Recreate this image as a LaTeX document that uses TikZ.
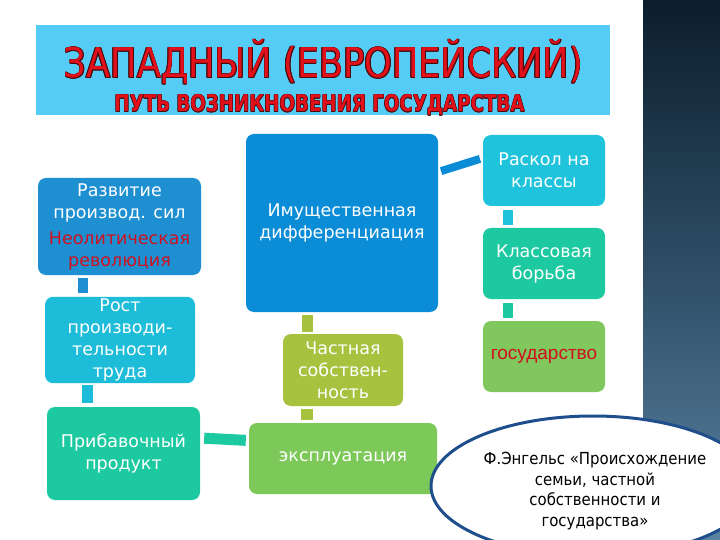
\documentclass[tikz,border=0pt]{standalone}
\usepackage{fontspec}
\setmainfont{DejaVu Sans}
\newfontfamily\condfont{DejaVu Sans Condensed}
\newfontfamily\titlefont{DejaVu Sans Condensed}
\newfontfamily\subtitlefont{DejaVu Sans Condensed Bold}
\newfontfamily\arialfont{Liberation Sans}
\usetikzlibrary{shapes.geometric}
\definecolor{titlebg}{HTML}{55CCF5}
\definecolor{titlered}{HTML}{E2101A}
\definecolor{titledark}{HTML}{4A0A0A}
\definecolor{nred}{HTML}{D0101E}
\definecolor{cBlueA}{HTML}{1E90D2}
\definecolor{cBlueB}{HTML}{0B8CD6}
\definecolor{cCyan}{HTML}{1DBCD8}
\definecolor{cCyanB}{HTML}{1FC4DC}
\definecolor{cTeal}{HTML}{1CC9A0}
\definecolor{cOlive}{HTML}{A6C23E}
\definecolor{cGreen}{HTML}{7CC858}
\definecolor{cGreenB}{HTML}{80C75E}
\definecolor{ellblue}{HTML}{1F4E8C}
\definecolor{panelTop}{HTML}{0C1E2C}
\definecolor{panelMid}{HTML}{2E4E66}
\definecolor{panelBot}{HTML}{5A82A2}
\newcommand\olt[3]{\leavevmode
 \rlap{\textcolor{#1}{\kern-#2#3}}%
 \rlap{\textcolor{#1}{\kern#2#3}}%
 \rlap{\textcolor{#1}{\raisebox{#2}{#3}}}%
 \rlap{\textcolor{#1}{\raisebox{-#2}{#3}}}%
 \rlap{\textcolor{#1}{\kern-#2\raisebox{#2}{#3}}}%
 \rlap{\textcolor{#1}{\kern#2\raisebox{#2}{#3}}}%
 \rlap{\textcolor{#1}{\kern-#2\raisebox{-#2}{#3}}}%
 \rlap{\textcolor{#1}{\kern#2\raisebox{-#2}{#3}}}%
 \textcolor{titlered}{#3}}
\tikzset{
 box/.style={rounded corners=8pt, text=white, align=center, inner sep=2pt,
   font=\fontsize{17.5}{22}\selectfont},
 conn/.style={line width=10pt, line cap=butt},
}
\begin{document}
\begin{tikzpicture}[x=1pt,y=-1pt]
\useasboundingbox (0,0) rectangle (720,540);
\fill[white] (0,0) rectangle (720,540);
% right dark panel
\shade[top color=panelTop, bottom color=panelBot, middle color=panelMid] (643,0) rectangle (720,540);
% title band
\fill[titlebg] (36,25) rectangle (610,115);
\node[anchor=base, inner sep=0pt] (title) at (323.5,78)
  {\resizebox{519pt}{\height}{\fontsize{41}{44}\titlefont\olt{titledark}{0.7pt}{ЗАПАДНЫЙ (ЕВРОПЕЙСКИЙ)}}};
\node[anchor=base, inner sep=0pt] (subtitle) at (319.5,112)
  {\resizebox{410pt}{\height}{\fontsize{23}{26}\subtitlefont\olt{titledark}{0.45pt}{ПУТЬ ВОЗНИКНОВЕНИЯ ГОСУДАРСТВА}}};

% boxes
\node[box, fill=cBlueA, minimum width=163pt, minimum height=97pt] (b1) at (119.5,226.5)
  {Развитие\\производ. сил\\[4pt]\textcolor{nred}{Неолитическая}\\\textcolor{nred}{революция}};
\node[box, fill=cCyan, minimum width=150pt, minimum height=86pt] (b2) at (120,340)
  {Рост\\производи-\\тельности\\труда};
\node[box, fill=cTeal, minimum width=153pt, minimum height=93pt] (b3) at (123.5,453.5)
  {Прибавочный\\продукт};
\node[box, fill=cBlueB, minimum width=192pt, minimum height=178pt] (b4) at (342,223)
  {Имущественная\\дифференциация};
\node[box, fill=cOlive, minimum width=120pt, minimum height=72pt] (b5) at (343,370)
  {Частная\\собствен-\\ность};
\node[box, fill=cGreen, minimum width=188pt, minimum height=71pt] (b6) at (343,458.5)
  {эксплуатация};
\node[box, fill=cCyanB, minimum width=122pt, minimum height=71pt] (b7) at (544,170.5)
  {Раскол на\\классы};
\node[box, fill=cTeal, minimum width=122pt, minimum height=71pt] (b8) at (544,263.5)
  {Классовая\\борьба};
\node[box, fill=cGreenB, minimum width=122pt, minimum height=71pt, text=nred,
  font=\fontsize{19}{22}\arialfont] (b9) at (544,356.5) {государство};

% connectors
\draw[conn, cBlueA, shorten <=3pt, shorten >=4pt] ([xshift=-37pt]b1.south) -- ([xshift=-37pt]b1.south |- b2.north);
\draw[conn, cCyan, line width=11pt, shorten <=2pt, shorten >=4pt] ([xshift=-33pt]b2.south) -- ([xshift=-33pt]b2.south |- b3.north);
\draw[conn, cTeal, line width=11pt, shorten <=4pt, shorten >=3pt] ([yshift=15.5pt]b3.east) -- ([yshift=18pt]b6.west);
\draw[conn, cOlive, line width=12pt, shorten <=3pt, shorten >=3pt] ([xshift=-36.5pt]b6.north) -- ([xshift=-36.5pt]b5.south);
\draw[conn, cOlive, line width=11pt, shorten <=2pt, shorten >=3pt] ([xshift=-35.5pt]b5.north) -- ([xshift=-35.5pt]b5.north |- b4.south);
\draw[conn, cBlueB, line width=8pt, shorten <=3pt, shorten >=3pt] ([yshift=51pt]b4.east) -- ([yshift=12.5pt]b7.west);
\draw[conn, cCyanB, shorten <=4pt, shorten >=3pt] ([xshift=-36.5pt]b7.south) -- ([xshift=-36.5pt]b8.north);
\draw[conn, cTeal, shorten <=4pt, shorten >=3pt] ([xshift=-36.5pt]b8.south) -- ([xshift=-36.5pt]b9.north);

% Engels ellipse
\node[ellipse, draw=ellblue, line width=3pt, fill=white, minimum width=324pt, minimum height=140pt] (ell) at (593,486) {};
\node[align=center, text=black, font=\fontsize{16.6}{20.5}\condfont] (engels) at (595,491)
  {Ф.Энгельс «Происхождение\\семьи, частной\\собственности и\\государства»};
\end{tikzpicture}
\end{document}
